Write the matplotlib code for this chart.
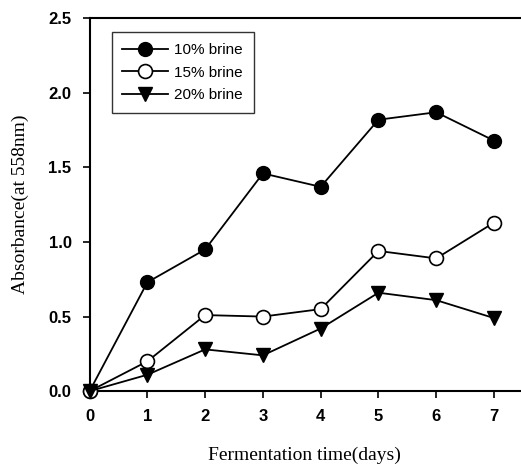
import matplotlib.pyplot as plt
from matplotlib.ticker import FormatStrFormatter

# data
days = [0, 1, 2, 3, 4, 5, 6, 7]
brine_10 = [0.0, 0.73, 0.95, 1.46, 1.37, 1.82, 1.87, 1.68]
brine_15 = [0.0, 0.20, 0.51, 0.50, 0.55, 0.94, 0.89, 1.13]
brine_20 = [0.0, 0.11, 0.28, 0.24, 0.42, 0.66, 0.61, 0.49]
labels = ['10% brine', '15% brine', '20% brine']

fig = plt.figure(figsize=(5.21, 4.69), dpi=100, facecolor='white')
ax = fig.add_axes([0.172, 0.166, 0.826, 0.795])

ax.plot(days, brine_10, color='black', lw=1.3, marker='o', ms=10,
        mfc='black', mec='black', label=labels[0], clip_on=False, zorder=3)
ax.plot(days, brine_15, color='black', lw=1.3, marker='o', ms=10,
        mfc='white', mec='black', mew=1.2, label=labels[1], clip_on=False, zorder=3)
ax.plot(days, brine_20, color='black', lw=1.3, marker='v', ms=10,
        mfc='black', mec='black', label=labels[2], clip_on=False, zorder=3)

ax.set_xlim(0, 7.45)
ax.set_ylim(0, 2.5)
ax.set_xticks(days)
ax.set_yticks([0, 0.5, 1.0, 1.5, 2.0, 2.5])
ax.yaxis.set_major_formatter(FormatStrFormatter('%.1f'))

ax.spines['right'].set_visible(False)
for s in ['left', 'bottom', 'top']:
    ax.spines[s].set_linewidth(1.5)
ax.tick_params(direction='out', length=5, width=1.2, pad=8)
for t in ax.get_xticklabels() + ax.get_yticklabels():
    t.set_fontfamily('Liberation Sans')
    t.set_fontweight('bold')
    t.set_fontsize(12)

ax.set_xlabel('Fermentation time(days)', family='Liberation Serif',
              fontsize=14, labelpad=16)
ax.set_ylabel('Absorbance(at 558nm)', family='Liberation Serif',
              fontsize=14, labelpad=14)

leg = ax.legend(loc='upper left', bbox_to_anchor=(0.051, 0.962),
                borderaxespad=0,
                prop={'family': 'Liberation Sans', 'size': 11},
                frameon=True, fancybox=False, edgecolor='black',
                handlelength=3.0, borderpad=0.7, labelspacing=0.55,
                handletextpad=0.4)
leg.get_frame().set_linewidth(1.0)

fig.savefig('out.png', dpi=100)
